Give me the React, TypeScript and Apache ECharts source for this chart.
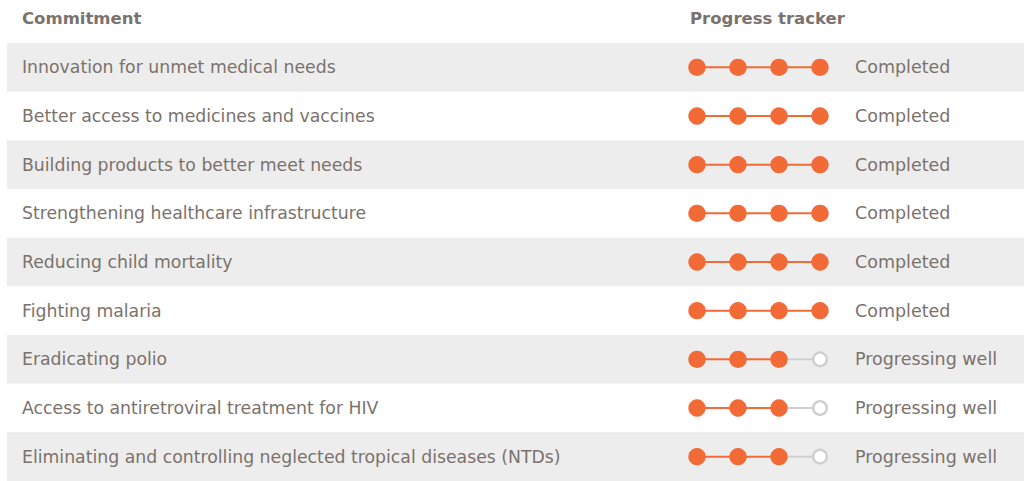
import React, { useEffect, useRef } from "react";
import * as echarts from "echarts";

const commitments = [
  "Innovation for unmet medical needs",
  "Better access to medicines and vaccines",
  "Building products to better meet needs",
  "Strengthening healthcare infrastructure",
  "Reducing child mortality",
  "Fighting malaria",
  "Eradicating polio",
  "Access to antiretroviral treatment for HIV",
  "Eliminating and controlling neglected tropical diseases (NTDs)",
];
const progressSteps = [4, 4, 4, 4, 4, 4, 3, 3, 3];
const statusLabels = [
  "Completed",
  "Completed",
  "Completed",
  "Completed",
  "Completed",
  "Completed",
  "Progressing well",
  "Progressing well",
  "Progressing well",
];
const totalSteps = 4;
const headers = ["Commitment", "Progress tracker"];

const ORANGE = "#f26a36";
const GRAY = "#cfcfcf";
const TEXT = "#7b726c";
const FONT = "'DejaVu Sans', sans-serif";

export default function App() {
  const ref = useRef<HTMLDivElement>(null);
  useEffect(() => {
    document.body.style.margin = "0";
    const chart = echarts.init(ref.current!, undefined, { renderer: "svg" });
    const rowH = 49.1;
    const top = 43;
    const height = rowH * commitments.length;
    const gridLeft = 676.5;
    const gridWidth = 164;
    chart.setOption({
      animation: false,
      textStyle: { fontFamily: FONT },
      title: [
        {
          text: headers[0],
          left: 22,
          top: 10,
          padding: 0,
          textStyle: { fontSize: 16.5, fontWeight: "bold", color: TEXT, fontFamily: FONT },
        },
        {
          text: headers[1],
          left: 690,
          top: 10,
          padding: 0,
          textStyle: { fontSize: 16.5, fontWeight: "bold", color: TEXT, fontFamily: FONT },
        },
      ],
      grid: [
        { left: 7, width: 1017, top, height, containLabel: false },
        { left: gridLeft, width: gridWidth, top, height, containLabel: false },
      ],
      xAxis: [
        { type: "value", gridIndex: 0, show: false, min: 0, max: 1 },
        { type: "value", gridIndex: 1, show: false, min: 0.5, max: totalSteps + 0.5 },
      ],
      yAxis: [
        {
          type: "category",
          gridIndex: 0,
          data: commitments,
          inverse: true,
          axisLine: { show: false },
          axisTick: { show: false },
          axisLabel: { show: false },
          splitLine: { show: false },
          splitArea: { show: true, areaStyle: { color: ["#ededed", "#ffffff"] } },
        },
        {
          type: "category",
          gridIndex: 1,
          data: commitments,
          inverse: true,
          position: "left",
          axisLine: { show: false },
          axisTick: { show: false },
          splitLine: { show: false },
          axisLabel: {
            align: "left",
            margin: gridLeft - 22,
            color: TEXT,
            fontSize: 17.3,
            fontFamily: FONT,
            padding: [0, 0, 8, 0],
          },
        },
        {
          type: "category",
          gridIndex: 1,
          data: statusLabels,
          inverse: true,
          position: "right",
          axisLine: { show: false },
          axisTick: { show: false },
          splitLine: { show: false },
          axisLabel: {
            align: "left",
            margin: 855 - (gridLeft + gridWidth),
            color: TEXT,
            fontSize: 17.5,
            fontFamily: FONT,
            padding: [0, 0, 6, 0],
          },
        },
      ],
      series: [
        {
          type: "custom",
          xAxisIndex: 1,
          yAxisIndex: 1,
          data: progressSteps.map((p, i) => [i, p]),
          renderItem: (params: any, api: any) => {
            const row = api.value(0);
            const prog = api.value(1);
            const children: any[] = [];
            for (let k = 1; k < totalSteps; k++) {
              const a = api.coord([k, row]);
              const b = api.coord([k + 1, row]);
              children.push({
                type: "line",
                shape: { x1: a[0], y1: a[1], x2: b[0], y2: b[1] },
                style: { stroke: k + 1 <= prog ? ORANGE : GRAY, lineWidth: 2 },
              });
            }
            for (let k = 1; k <= totalSteps; k++) {
              const c = api.coord([k, row]);
              if (k <= prog) {
                children.push({
                  type: "circle",
                  shape: { cx: c[0], cy: c[1], r: 8.7 },
                  style: { fill: ORANGE },
                });
              } else {
                children.push({
                  type: "circle",
                  shape: { cx: c[0], cy: c[1], r: 6.8 },
                  style: { fill: "#ffffff", stroke: GRAY, lineWidth: 2.4 },
                });
              }
            }
            return { type: "group", children };
          },
        },
      ],
    });
    return () => chart.dispose();
  }, []);
  return (
    <div
      ref={ref}
      style={{ position: "absolute", left: 0, top: 0, width: 1024, height: 481 }}
    />
  );
}
